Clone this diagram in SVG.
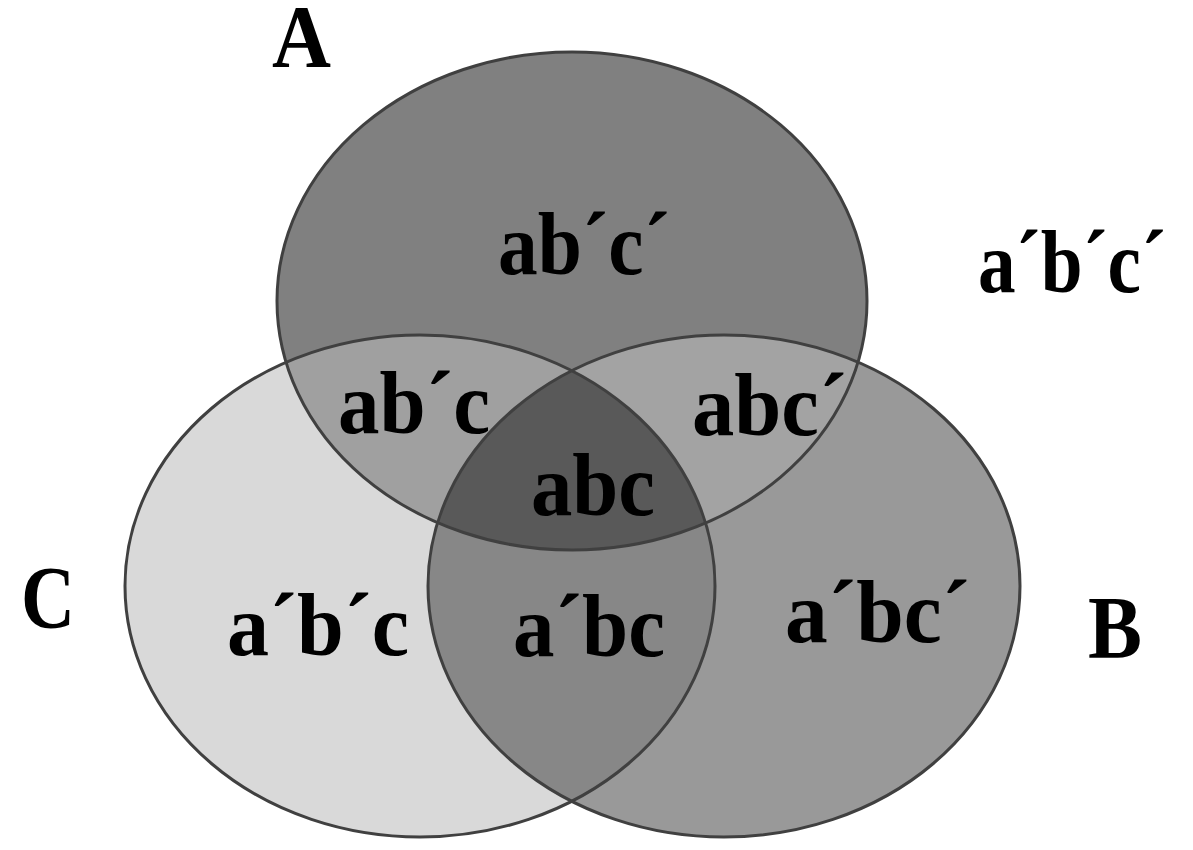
<svg xmlns="http://www.w3.org/2000/svg" width="1193" height="850" viewBox="0 0 1193 850">
<style>
.t{font-family:"Liberation Serif","Times New Roman",serif;font-weight:bold;font-size:88px;fill:#000}
.o{fill:none;stroke:#404040;stroke-width:3}
</style>
<defs>
<ellipse id="eA" cx="572" cy="301" rx="295" ry="249"/>
<ellipse id="eC" cx="420" cy="586" rx="295" ry="251"/>
<ellipse id="eB" cx="724" cy="586" rx="296" ry="251"/>
<clipPath id="cA"><use href="#eA"/></clipPath>
<clipPath id="cB"><use href="#eB"/></clipPath>
<clipPath id="cC"><use href="#eC"/></clipPath>
</defs>
<rect width="1193" height="850" fill="#fff"/>
<g id="regions">
<use href="#eA" fill="#808080"/>
<use href="#eC" fill="#d9d9d9"/>
<use href="#eB" fill="#999999"/>
<g clip-path="url(#cA)"><use href="#eC" fill="#a0a0a0"/><use href="#eB" fill="#a3a3a3"/></g>
<g clip-path="url(#cC)"><use href="#eB" fill="#878787"/></g>
<g clip-path="url(#cA)"><g clip-path="url(#cC)"><use href="#eB" fill="#595959"/></g></g>
</g>
<g id="outlines">
<use href="#eA" class="o"/>
<use href="#eC" class="o"/>
<use href="#eB" class="o"/>
</g>
<g id="labels">
<text class="t" x="272" y="66" textLength="59" lengthAdjust="spacingAndGlyphs">A</text>
<text class="t" x="21" y="627" textLength="54" lengthAdjust="spacingAndGlyphs">C</text>
<text class="t" x="1088" y="657" textLength="54" lengthAdjust="spacingAndGlyphs">B</text>
<text class="t" x="498" y="274" textLength="172" lengthAdjust="spacingAndGlyphs">ab´c´</text>
<text class="t" x="978" y="292" textLength="188" lengthAdjust="spacingAndGlyphs">a´b´c´</text>
<text class="t" x="338" y="433" textLength="152" lengthAdjust="spacingAndGlyphs">ab´c</text>
<text class="t" x="692" y="435" textLength="155" lengthAdjust="spacingAndGlyphs">abc´</text>
<text class="t" x="531" y="515" textLength="124" lengthAdjust="spacingAndGlyphs">abc</text>
<text class="t" x="227" y="655" textLength="182" lengthAdjust="spacingAndGlyphs">a´b´c</text>
<text class="t" x="513" y="656" textLength="152" lengthAdjust="spacingAndGlyphs">a´bc</text>
<text class="t" x="785" y="642" textLength="185" lengthAdjust="spacingAndGlyphs">a´bc´</text>
</g>
</svg>
